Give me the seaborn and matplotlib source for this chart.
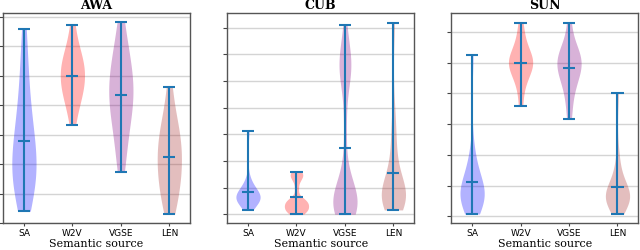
import numpy as np
import pandas as pd
import matplotlib
matplotlib.use('Agg')
import matplotlib.pyplot as plt
import seaborn as sns

datasets = ['AWA', 'CUB', 'SUN']
sources = ['SA', 'W2V', 'VGSE', 'LEN']
body_colors = ['blue', 'red', 'purple', 'brown']

# values (tick spacing = 1 unit, labels hidden)
awa_sa = [0.4, 0.8, 1.1, 1.3, 1.5, 1.7, 1.9, 2.1, 2.3, 2.5, 2.8, 3.1, 3.4, 3.8, 4.3, 4.9, 5.6, 6.59]
awa_w2v = [3.32, 3.9, 4.15, 4.35, 4.55, 4.7, 4.85, 5.0, 5.15, 5.3, 5.45, 5.6, 5.8, 6.1, 6.72]
awa_vgse = [1.73, 2.3, 2.8, 3.2, 3.5, 3.8, 4.0, 4.2, 4.4, 4.6, 4.8, 5.0, 5.25, 5.5, 5.8, 6.2, 6.82]
awa_len = [0.31, 0.6, 0.9, 1.2, 1.4, 1.6, 1.8, 2.0, 2.2, 2.4, 2.6, 2.8, 3.0, 3.2, 3.5, 3.9, 4.62]

cub_sa = [0.16, 0.35, 0.45, 0.5, 0.55, 0.6, 0.6, 0.65, 0.65, 0.7, 0.7, 0.75, 0.85, 0.95, 1.1, 1.3, 3.13]
cub_w2v = [0.0, 0.05, 0.1, 0.15, 0.2, 0.25, 0.3, 0.35, 0.4, 0.45, 0.5, 0.55, 0.6, 0.95,
           1.25, 1.38, 1.47, 1.54, 1.59]
cub_vgse = [0.0, 0.05, 0.1, 0.15, 0.2, 0.25, 0.3, 0.35, 0.4, 0.45, 0.5, 0.6, 0.7, 0.8, 0.95,
            1.1, 1.35, 1.7, 2.8, 3.8, 4.8, 5.1, 5.3, 5.45, 5.6, 5.75, 5.9, 6.1, 6.5, 7.1]
cub_len = [0.16, 0.3, 0.45, 0.5, 0.55, 0.6, 0.65, 0.7, 0.75, 0.85, 0.95, 1.1, 1.3, 1.6, 2.0, 2.5, 3.1, 3.8, 7.18]

sun_sa = [0.08, 0.3, 0.45, 0.5, 0.55, 0.6, 0.65, 0.7, 0.7, 0.75, 0.8, 0.9, 1.0, 1.15, 1.3, 1.5, 1.8, 2.2, 5.25]
sun_w2v = [3.59, 4.2, 4.5, 4.7, 4.85, 4.95, 5.0, 5.05, 5.15, 5.3, 5.5, 5.8, 6.28]
sun_vgse = [3.18, 3.8, 4.2, 4.45, 4.65, 4.8, 4.9, 5.0, 5.1, 5.25, 5.45, 5.55, 6.28]
sun_len = [0.08, 0.3, 0.4, 0.45, 0.5, 0.55, 0.6, 0.6, 0.65, 0.7, 0.7, 0.75, 0.8, 0.9, 1.0, 1.1, 1.3, 1.6, 2.0, 4.0]

panel_values = {
    'AWA': [awa_sa, awa_w2v, awa_vgse, awa_len],
    'CUB': [cub_sa, cub_w2v, cub_vgse, cub_len],
    'SUN': [sun_sa, sun_w2v, sun_vgse, sun_len],
}
y_limits = {'AWA': (-0.01, 7.13), 'CUB': (-0.34, 7.54), 'SUN': (-0.22, 6.6)}
y_ticks = {'AWA': list(range(8)), 'CUB': list(range(8)), 'SUN': list(range(7))}
# kde smoothing per violin
bandwidth = {'AWA': [1.0, 1.0, 1.0, 1.0], 'CUB': [0.8, 0.5, 0.55, 0.7], 'SUN': [0.9, 0.9, 0.9, 0.9]}

fig, axes = plt.subplots(1, 3, figsize=(6.4, 2.5), dpi=100)
plt.subplots_adjust(left=0.0052, right=0.997, bottom=0.107, top=0.947, wspace=0.201)

for ax, name in zip(axes, datasets):
    values = panel_values[name]
    ax.set_axisbelow(True)
    ax.grid(axis='y', color='#d4d4d4', lw=1)

    for i, (src, v) in enumerate(zip(sources, values)):
        df = pd.DataFrame({'source': [src] * len(v), 'value': v})
        sns.violinplot(data=df, x='source', y='value', order=sources, color=body_colors[i],
                       saturation=1, cut=0, inner=None, width=0.5, density_norm='width',
                       linewidth=0, bw_adjust=bandwidth[name][i], alpha=0.3, ax=ax)

    for i, v in enumerate(values):
        lo, hi, mu = min(v), max(v), np.mean(v)
        ax.vlines(i, lo, hi, color='C0', lw=1.5)
        ax.hlines([lo, hi, mu], i - 0.125, i + 0.125, color='C0', lw=1.5)

    ax.set_xlim(-0.425, 3.425)
    ax.set_ylim(*y_limits[name])
    ax.set_yticks(y_ticks[name])
    ax.set_yticklabels([])
    ax.set_ylabel('')
    ax.set_title(name, fontfamily='DejaVu Serif', fontweight='bold', fontsize=9, pad=2.8)
    ax.set_xlabel('Semantic source', fontfamily='DejaVu Serif', fontsize=8, labelpad=1)
    ax.tick_params(axis='x', labelsize=6.5, length=2, pad=2, color='#444444')
    ax.tick_params(axis='y', length=3, color='#444444')
    for sp in ax.spines.values():
        sp.set_color('#555555')
        sp.set_linewidth(1)

fig.savefig('out.png', dpi=100)
